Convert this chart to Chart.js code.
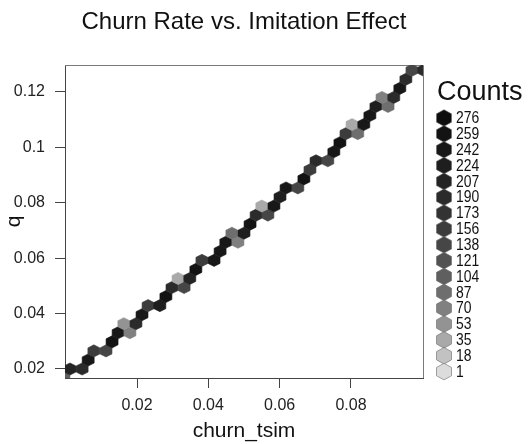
<!DOCTYPE html>
<html>
<head>
<meta charset="utf-8">
<script src="https://cdn.jsdelivr.net/npm/chart.js@4.4.1/dist/chart.umd.min.js"></script>
<style>
  html, body { margin: 0; padding: 0; background: #fff; }
  #chart { display: block; }
</style>
</head>
<body>
<canvas id="chart" width="530" height="444"></canvas>
<script>
// hexbin cells: centre on churn_tsim, centre on q, count in the cell
const hexX = [
  -0.0005,
  0.0012, 0.0046,
  0.0063,
  0.0079, 0.0113,
  0.0130,
  0.0147, 0.0180,
  0.0163, 0.0197,
  0.0214,
  0.0231, 0.0264,
  0.0281,
  0.0298, 0.0332,
  0.0315, 0.0348,
  0.0365,
  0.0382, 0.0416,
  0.0433,
  0.0449, 0.0483,
  0.0466, 0.0500,
  0.0517,
  0.0534, 0.0567,
  0.0550, 0.0584,
  0.0601,
  0.0618, 0.0651,
  0.0668,
  0.0685,
  0.0702, 0.0735,
  0.0752,
  0.0769,
  0.0786, 0.0819,
  0.0803, 0.0836,
  0.0853,
  0.0870, 0.0904,
  0.0887, 0.0920,
  0.0937,
  0.0954,
  0.0971, 0.1004
];
const hexY = [
  0.01673,
  0.02000, 0.02000,
  0.02327,
  0.02653, 0.02653,
  0.02980,
  0.03307, 0.03307,
  0.03634, 0.03634,
  0.03960,
  0.04287, 0.04287,
  0.04614,
  0.04940, 0.04940,
  0.05267, 0.05267,
  0.05594,
  0.05920, 0.05920,
  0.06247,
  0.06574, 0.06574,
  0.06900, 0.06900,
  0.07227,
  0.07554, 0.07554,
  0.07880, 0.07880,
  0.08207,
  0.08534, 0.08534,
  0.08860,
  0.09187,
  0.09514, 0.09514,
  0.09840,
  0.10167,
  0.10494, 0.10494,
  0.10820, 0.10820,
  0.11147,
  0.11474, 0.11474,
  0.11800, 0.11800,
  0.12127,
  0.12454,
  0.12780, 0.12780
];
const hexCount = [
  110,
  220, 200,
  255,
  160, 150,
  265,
  250, 80,
  60, 200,
  250,
  170, 240,
  260,
  200, 140,
  35, 210,
  265,
  165, 250,
  255,
  245, 75,
  100, 240,
  260,
  200, 140,
  35, 255,
  230,
  245, 150,
  260,
  170,
  200, 150,
  255,
  260,
  170, 100,
  35, 250,
  255,
  240, 100,
  85, 200,
  255,
  200,
  150, 200
];

// legend levels (lowest first) and their grays
const countBreaks = [1, 18, 35, 53, 70, 87, 104, 121, 138, 156, 173, 190, 207, 224, 242, 259, 276];
const grayLevels = ['#dcdcdc', '#c2c2c2', '#a9a9a9', '#939393', '#808080', '#6e6e6e', '#5f5f5f', '#525252',
  '#464646', '#3c3c3c', '#333333', '#2b2b2b', '#242424', '#1e1e1e', '#181818', '#131313', '#0e0e0e'];

const xTicks = [0.02, 0.04, 0.06, 0.08];
const xTickLabels = ['0.02', '0.04', '0.06', '0.08'];
const yTicks = [0.02, 0.04, 0.06, 0.08, 0.1, 0.12];
const yTickLabels = ['0.02', '0.04', '0.06', '0.08', '0.1', '0.12'];

// half width / vertical radius of one hex cell, in data units
const hexHalfW = 0.00168;
const hexRadius = 0.00218;

const FONT = '"Liberation Sans", Arial, Helvetica, sans-serif';
Chart.defaults.font.family = FONT;
Chart.defaults.color = '#111';

function colorFor(count) {
  let level = 0;
  for (let i = 0; i < countBreaks.length; i++) {
    if (count >= countBreaks[i]) level = i;
  }
  return grayLevels[level];
}

function hexPath(ctx, cx, cy, hw, r) {
  ctx.beginPath();
  ctx.moveTo(cx, cy - r);
  ctx.lineTo(cx + hw, cy - r / 2);
  ctx.lineTo(cx + hw, cy + r / 2);
  ctx.lineTo(cx, cy + r);
  ctx.lineTo(cx - hw, cy + r / 2);
  ctx.lineTo(cx - hw, cy - r / 2);
  ctx.closePath();
}

// draws the hex cells where the scatter points sit
const hexPlugin = {
  id: 'hexCells',
  beforeDatasetsDraw(chart) {
    const ctx = chart.ctx;
    const area = chart.chartArea;
    // top and right edges of the box (left/bottom are the axes)
    ctx.save();
    ctx.strokeStyle = '#7a7a7a';
    ctx.lineWidth = 1;
    ctx.beginPath();
    ctx.moveTo(area.left, area.top + 0.5);
    ctx.lineTo(area.right + 0.5, area.top + 0.5);
    ctx.lineTo(area.right + 0.5, area.bottom);
    ctx.stroke();
    ctx.restore();
  },
  afterDatasetsDraw(chart) {
    const ctx = chart.ctx;
    const area = chart.chartArea;
    const xs = chart.scales.x;
    const ys = chart.scales.y;
    const hw = xs.getPixelForValue(hexHalfW) - xs.getPixelForValue(0);
    const r = ys.getPixelForValue(0) - ys.getPixelForValue(hexRadius);
    const points = chart.getDatasetMeta(0).data;
    ctx.save();
    ctx.beginPath();
    ctx.rect(area.left, area.top, area.right - area.left, area.bottom - area.top);
    ctx.clip();
    points.forEach((pt, i) => {
      const c = colorFor(hexCount[i]);
      hexPath(ctx, pt.x, pt.y, hw, r);
      ctx.fillStyle = c;
      ctx.fill();
      ctx.strokeStyle = c;
      ctx.lineWidth = 0.6;
      ctx.stroke();
    });
    ctx.restore();
  }
};

// the "Counts" key on the right
const legendPlugin = {
  id: 'countsKey',
  afterDraw(chart) {
    const ctx = chart.ctx;
    ctx.save();
    ctx.fillStyle = '#111';
    ctx.textAlign = 'left';
    ctx.textBaseline = 'alphabetic';
    ctx.font = '27px ' + FONT;
    ctx.fillText('Counts', 437, 100);
    ctx.textBaseline = 'middle';
    for (let i = 0; i < countBreaks.length; i++) {
      const level = countBreaks.length - 1 - i;
      const cy = 118 + i * 15.85;
      hexPath(ctx, 444, cy, 7.5, 8.3);
      ctx.fillStyle = grayLevels[level];
      ctx.fill();
      ctx.strokeStyle = '#6a6a6a';
      ctx.lineWidth = 0.6;
      ctx.stroke();
      // condensed labels, like the narrow face of the original
      ctx.save();
      ctx.translate(456, cy + 0.5);
      ctx.scale(0.82, 1);
      ctx.font = '17px ' + FONT;
      ctx.fillStyle = '#111';
      ctx.fillText(String(countBreaks[level]), 0, 0);
      ctx.restore();
    }
    ctx.restore();
  }
};

const chart = new Chart(document.getElementById('chart'), {
  type: 'scatter',
  data: {
    datasets: [{
      data: hexX.map((x, i) => ({ x: x, y: hexY[i] })),
      pointRadius: 0,
      pointHoverRadius: 0
    }]
  },
  options: {
    responsive: false,
    animation: false,
    devicePixelRatio: 1,
    events: [],
    layout: { padding: { left: 0, right: 107, top: 0, bottom: 0 } },
    plugins: {
      legend: { display: false },
      tooltip: { enabled: false },
      title: {
        display: true,
        text: 'Churn Rate vs. Imitation Effect',
        fullSize: false,
        color: '#111',
        font: { size: 24, weight: 'normal' },
        padding: { top: 8, bottom: 28.2 }
      }
    },
    scales: {
      x: {
        type: 'linear',
        min: -0.0002,
        max: 0.1002,
        afterBuildTicks: s => { s.ticks = xTicks.map(v => ({ value: v })); },
        afterFit: s => { s.height = 66; },
        grid: { drawOnChartArea: false, drawTicks: true, tickLength: 10, color: '#444' },
        border: { display: true, color: '#444', width: 1 },
        ticks: {
          padding: 8,
          maxRotation: 0,
          font: { size: 16 },
          color: '#222',
          callback: v => xTickLabels[xTicks.indexOf(v)]
        },
        title: { display: true, text: 'churn_tsim', font: { size: 21 }, color: '#111', padding: 0 }
      },
      y: {
        type: 'linear',
        min: 0.01675,
        max: 0.1297,
        afterBuildTicks: s => { s.ticks = yTicks.map(v => ({ value: v })); },
        afterFit: s => { s.width = 65; },
        grid: { drawOnChartArea: false, drawTicks: true, tickLength: 10, color: '#444' },
        border: { display: true, color: '#444', width: 1 },
        ticks: {
          padding: 10,
          font: { size: 16 },
          color: '#222',
          callback: v => yTickLabels[yTicks.indexOf(v)]
        },
        title: { display: true, text: 'q', font: { size: 21 }, color: '#111', padding: 2 }
      }
    }
  },
  plugins: [hexPlugin, legendPlugin]
});
</script>
</body>
</html>
